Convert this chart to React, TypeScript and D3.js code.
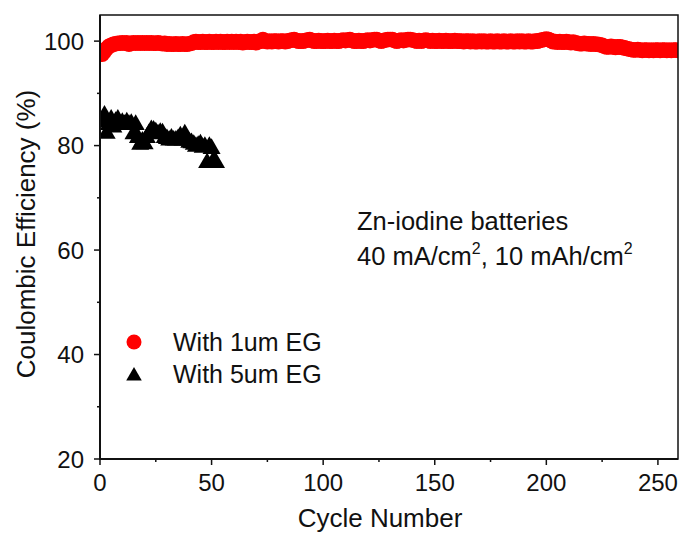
import * as d3 from 'd3';

// Coulombic efficiency (%) per cycle, starting at cycle 1
const ce1um = [
  97.5, 98.0, 98.6, 99.0, 99.2, 99.4, 99.5, 99.6, 99.6, 99.7,
  99.6, 99.7, 99.4, 99.6, 99.7, 99.6, 99.7, 99.6, 99.7, 99.6,
  99.7, 99.6, 99.7, 99.6, 99.6, 99.7, 99.6, 99.5, 99.6, 99.4,
  99.5, 99.4, 99.4, 99.5, 99.4, 99.4, 99.5, 99.4, 99.4, 99.5,
  99.6, 99.8, 99.9, 99.8, 99.8, 99.9, 99.8, 99.8, 99.9, 99.8,
  99.8, 99.9, 99.8, 99.9, 99.8, 99.8, 99.9, 99.8, 99.9, 99.8,
  99.9, 99.8, 99.9, 99.7, 99.8, 99.9, 99.8, 99.8, 99.9, 99.7,
  99.9, 100.0, 100.3, 100.0, 99.9, 100.0, 99.9, 100.0, 100.0, 99.9,
  100.0, 100.0, 99.9, 100.0, 100.1, 100.2, 100.3, 100.1, 100.0, 100.0,
  100.0, 100.1, 100.2, 100.3, 100.1, 100.0, 100.0, 100.1, 100.0, 100.0,
  100.0, 100.1, 100.0, 100.0, 100.1, 100.0, 100.0, 100.1, 100.2, 100.1,
  100.2, 100.3, 100.1, 100.0, 100.0, 100.1, 100.0, 100.0, 100.1, 100.2,
  100.1, 100.2, 100.3, 100.3, 100.1, 100.0, 100.1, 100.2, 100.3, 100.3,
  100.3, 100.1, 100.0, 100.1, 100.2, 100.1, 100.2, 100.3, 100.3, 100.2,
  100.1, 100.0, 100.1, 100.0, 100.1, 100.2, 100.1, 100.0, 100.1, 100.0,
  100.0, 100.1, 100.0, 100.0, 100.1, 100.0, 100.0, 100.0, 100.1, 100.0,
  100.0, 100.0, 99.9, 100.0, 100.0, 99.9, 100.0, 99.9, 99.9, 100.0,
  99.9, 100.0, 99.9, 99.9, 100.0, 99.9, 99.9, 100.0, 99.9, 99.9,
  100.0, 99.9, 99.9, 100.0, 99.9, 99.9, 100.0, 99.9, 100.0, 99.9,
  99.9, 100.0, 99.9, 99.9, 100.0, 100.0, 100.1, 100.2, 100.3, 100.4,
  100.3, 100.1, 99.9, 99.9, 99.8, 99.9, 99.8, 99.8, 99.9, 99.8,
  99.7, 99.8, 99.7, 99.6, 99.5, 99.5, 99.6, 99.5, 99.5, 99.4,
  99.5, 99.4, 99.4, 99.3, 99.2, 99.0, 98.9, 98.9, 99.0, 98.9,
  98.8, 98.9, 98.9, 98.8, 98.7, 98.6, 98.5, 98.4, 98.3, 98.3,
  98.4, 98.3, 98.2, 98.3, 98.3, 98.2, 98.3, 98.2, 98.3, 98.3,
  98.2, 98.3, 98.3, 98.2, 98.3, 98.2, 98.3, 98.3, 98.2,
];

const ce5um = [
  84.5, 85.8, 82.3, 84.0, 85.0, 83.5, 84.6, 85.0, 84.0, 84.4,
  84.0, 84.5, 84.0, 84.2, 82.2, 84.0, 81.5, 80.2, 80.8, 80.3,
  81.5, 82.3, 83.0, 82.9, 82.6, 82.2, 82.5, 82.4, 81.5, 81.3,
  81.0, 81.4, 81.0, 81.0, 81.3, 81.8, 81.0, 82.2, 81.0, 80.6,
  80.5, 80.2, 79.8, 80.0, 80.3, 79.6, 79.8, 76.7, 79.8, 79.4,
  77.2, 76.7,
];

const xTicks = [0, 50, 100, 150, 200, 250];
const xMinor = [25, 75, 125, 175, 225];
const yTicks = [20, 40, 60, 80, 100];
const yMinor = [30, 50, 70, 90];

const legendItems = ['With 1um EG', 'With 5um EG'];

const W = 680;
const H = 533;
const left = 100;
const right = 678;
const top = 15;
const bottom = 459;
const font = 'Arial, "Liberation Sans", sans-serif';

export default function App() {
  const x = d3.scaleLinear().domain([0, 259]).range([left, right]);
  const y = d3.scaleLinear().domain([20, 105]).range([bottom, top]);
  const tri = d3.symbol().type(d3.symbolTriangle).size(140)();
  const triLegend = d3.symbol().type(d3.symbolTriangle).size(105)();

  return (
    <svg width={W} height={H} style={{ position: 'absolute', left: 0, top: 0 }} fontFamily={font}>
      <defs>
        <clipPath id="plot">
          <rect x={left} y={top} width={right - left} height={bottom - top} />
        </clipPath>
      </defs>
      <rect width={W} height={H} fill="#fff" />
      <g clipPath="url(#plot)">
        {ce1um.map((v, i) => (
          <circle key={'c' + i} cx={x(i + 1)} cy={y(v)} r={7.8} fill="#ff0000" />
        ))}
        {ce5um.map((v, i) => (
          <path key={'t' + i} d={tri} transform={`translate(${x(i + 1)},${y(v)})`} fill="#000" />
        ))}
      </g>

      {/* frame */}
      <rect x={left} y={top} width={right - left} height={bottom - top} fill="none" stroke="#111" strokeWidth={1.5} />
      <line x1={left} x2={left} y1={top} y2={bottom + 1} stroke="#111" strokeWidth={2} />
      <line x1={left - 1} x2={right} y1={bottom} y2={bottom} stroke="#111" strokeWidth={2} />

      {/* x axis */}
      {xTicks.map((t) => (
        <g key={'xt' + t}>
          <line x1={x(t)} x2={x(t)} y1={bottom} y2={bottom + 6} stroke="#111" strokeWidth={1.5} />
          <text x={x(t)} y={491} textAnchor="middle" fontSize={24} fill="#111">{t}</text>
        </g>
      ))}
      {xMinor.map((t) => (
        <line key={'xm' + t} x1={x(t)} x2={x(t)} y1={bottom} y2={bottom + 3} stroke="#111" strokeWidth={1.5} />
      ))}

      {/* y axis */}
      {yTicks.map((t) => (
        <g key={'yt' + t}>
          <line x1={left - 6} x2={left} y1={y(t)} y2={y(t)} stroke="#111" strokeWidth={1.5} />
          <text x={84} y={y(t) + 8.5} textAnchor="end" fontSize={24} fill="#111">{t}</text>
        </g>
      ))}
      {yMinor.map((t) => (
        <line key={'ym' + t} x1={left - 3} x2={left} y1={y(t)} y2={y(t)} stroke="#111" strokeWidth={1.5} />
      ))}

      <text x={380} y={527} textAnchor="middle" fontSize={26} fill="#111">Cycle Number</text>
      <text transform="translate(35,234) rotate(-90)" textAnchor="middle" fontSize={26} fill="#111">
        Coulombic Efficiency (%)
      </text>

      {/* annotation */}
      <text x={357} y={230} fontSize={25.5} fill="#111">Zn-iodine batteries</text>
      <text x={357} y={265} fontSize={25.5} fill="#111">
        40 mA/cm<tspan fontSize={16} dy={-11}>2</tspan>
        <tspan dy={11}>, 10 mAh/cm</tspan>
        <tspan fontSize={16} dy={-11}>2</tspan>
      </text>

      {/* legend */}
      <circle cx={134} cy={342} r={7.5} fill="#ff0000" />
      <path d={triLegend} transform="translate(134,376)" fill="#000" />
      {legendItems.map((s, i) => (
        <text key={s} x={173} y={351 + i * 32} fontSize={25} fill="#111">{s}</text>
      ))}
    </svg>
  );
}
